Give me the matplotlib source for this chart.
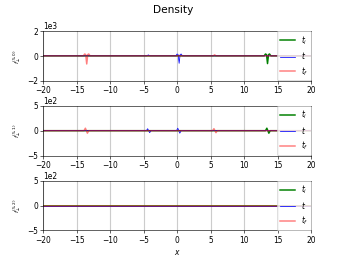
import numpy as np
import matplotlib
matplotlib.use('Agg')
import matplotlib.pyplot as plt

# Panel 1: (5,0) component
x0_ti = [-20, 13.0, 13.2, 13.35, 13.5, 13.65, 13.8, 14.0, 20]
y0_ti = [0, 0, 150, 100, -620, 100, 150, 0, 0]
x0_t = [-20, -4.5, -4.3, -4.1, -0.2, 0.0, 0.15, 0.3, 0.45, 0.6, 0.8, 20]
y0_t = [0, 0, 80, 0, 0, 150, 100, -600, 100, 150, 0, 0]
x0_tf = [-20, -14.0, -13.8, -13.65, -13.5, -13.35, -13.2, -13.0, 5.4, 5.6, 5.8, 20]
y0_tf = [0, 0, 150, 100, -650, 100, 150, 0, 0, 80, 0, 0]

# Panel 2: (5,1) component
x1_ti = [-20, 13.2, 13.4, 13.55, 13.7, 13.9, 20]
y1_ti = [0, 0, 50, 0, -50, 0, 0]
x1_t = [-20, -4.6, -4.4, -4.25, -4.1, -3.9, -0.1, 0.1, 0.25, 0.4, 0.6, 20]
y1_t = [0, 0, 40, 0, -40, 0, 0, 50, 0, -50, 0, 0]
x1_tf = [-20, -13.9, -13.7, -13.55, -13.4, -13.2, 5.3, 5.5, 5.65, 5.8, 6.0, 20]
y1_tf = [0, 0, 50, 0, -50, 0, 0, 40, 0, -40, 0, 0]

# Panel 3: (5,2) component, flat
x2 = [-20, 20]
y2 = [0, 0]

panels = [
    (x0_ti, y0_ti, x0_t, y0_t, x0_tf, y0_tf, 2000, r'$f_{\perp}^{(5,0)}$'),
    (x1_ti, y1_ti, x1_t, y1_t, x1_tf, y1_tf, 500, r'$f_{\perp}^{(5,1)}$'),
    (x2, y2, x2, y2, x2, y2, 500, r'$f_{\perp}^{(5,2)}$'),
]

fig, axes = plt.subplots(3, 1, figsize=(6.4, 4.8), dpi=54)
fig.subplots_adjust(hspace=0.5)
fig.suptitle('Density', fontsize=14)

for ax, (xa, ya, xb, yb, xc, yc, lim, lab) in zip(axes, panels):
    ax.plot(xa, ya, color='green', lw=2, label='$t_i$')
    ax.plot(xb, yb, color='blue', lw=1, label='$t$')
    ax.plot(xc, yc, color='red', lw=2, alpha=0.5, label='$t_f$')
    ax.set_xlim(-20, 20)
    ax.set_ylim(-lim, lim)
    ax.set_yticks([-lim, 0, lim])
    ax.ticklabel_format(axis='y', style='sci', scilimits=(0, 0))
    ax.grid(True, axis='x', color='#cccccc', lw=1.5)
    ax.set_ylabel(lab, fontsize=8)
    ax.legend(loc='upper right', borderaxespad=0)

axes[-1].set_xlabel('$x$')

plt.savefig('out.png', dpi=54)
